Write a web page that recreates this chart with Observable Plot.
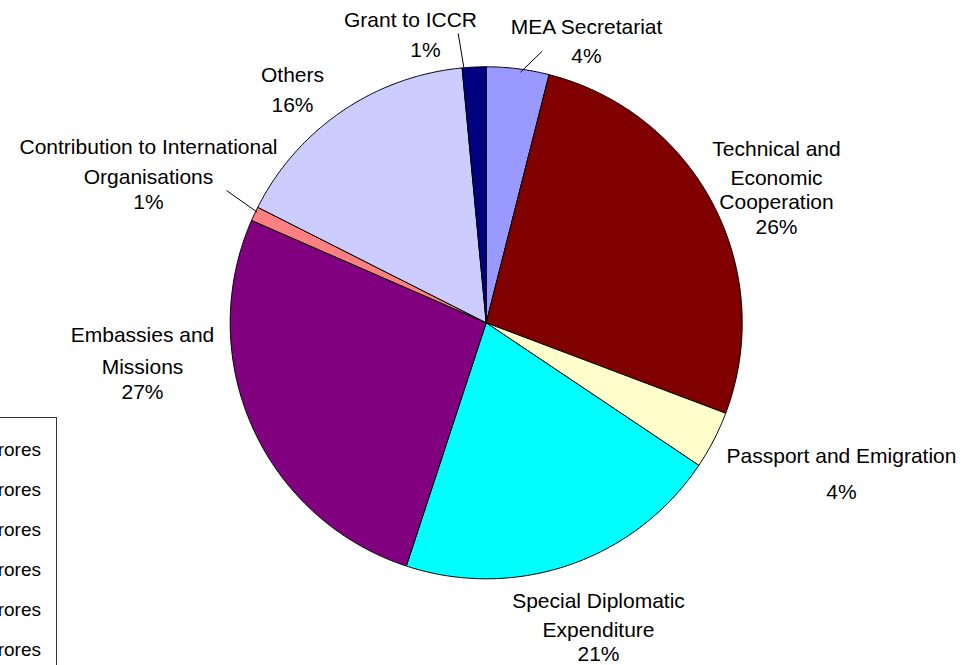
<!DOCTYPE html>
<html>
<head>
<meta charset="utf-8">
<script src="https://cdn.jsdelivr.net/npm/d3@7"></script>
<script src="https://cdn.jsdelivr.net/npm/@observablehq/plot@0.6"></script>
<style>
  html, body { margin: 0; padding: 0; background: #fff; overflow: hidden; }
  #wrap { position: relative; width: 972px; height: 665px; overflow: hidden; font-family: "Liberation Sans", Arial, sans-serif; }
  #legend { position: absolute; left: -242px; top: 417px; width: 299px; height: 320px; border: 1px solid #333; background: #fff; box-sizing: border-box; }
  #legend div { position: absolute; right: 15px; font-size: 19px; line-height: 24px; white-space: nowrap; color: #000; }
</style>
</head>
<body>
<div id="wrap"></div>
<script>
// ---- data ----
const categories = [
  "MEA Secretariat",
  "Technical and Economic Cooperation",
  "Passport and Emigration",
  "Special Diplomatic Expenditure",
  "Embassies and Missions",
  "Contribution to International Organisations",
  "Others",
  "Grant to ICCR"
];
const shares = [3.95, 26.8, 3.65, 20.65, 26.5, 0.9, 16.05, 1.5];
const percentLabels = ["4%", "26%", "4%", "21%", "27%", "1%", "16%", "1%"];
const nameLines = [
  ["MEA Secretariat"],
  ["Technical and", "Economic", "Cooperation"],
  ["Passport and Emigration"],
  ["Special Diplomatic", "Expenditure"],
  ["Embassies and", "Missions"],
  ["Contribution to International", "Organisations"],
  ["Others"],
  ["Grant to ICCR"]
];
const colors = ["#9999FF", "#800000", "#FFFFCC", "#00FFFF", "#800080", "#FF8080", "#CCCCFF", "#000080"];
const legendTexts = ["Crores", "Crores", "Crores", "Crores", "Crores", "Crores", "Crores", "Crores"];

// ---- layout (pixels) ----
const cx = 485.7, cy = 322.3, R = 256;
// label line centres per category: [x, y] for each name line, then the percent line
const labelLayout = [
  [[586, 27], [586, 56]],
  [[776, 149], [776, 178], [776, 202], [776, 227]],
  [[841, 456], [841, 492]],
  [[598, 601], [598, 630], [598, 654]],
  [[142, 335], [142, 367], [142, 392]],
  [[148, 147], [148, 177], [148, 202]],
  [[292, 75], [292, 105]],
  [[410, 20], [425, 50]]
];
const leaderLayout = [
  {cat: 0, from: [520, 71.7], to: [541.7, 50.7]},
  {cat: 5, from: [256.7, 211.7], to: [226, 190]},
  {cat: 7, from: [463.3, 66.7], to: [457.7, 33]}
];

const toX = px => (px - cx) / R;
const toY = py => (cy - py) / R;

// slices from the pie layout
const arcs = d3.pie().sort(null).value(d => d)(shares);
const slicePts = [];
arcs.forEach((a, i) => {
  const cat = categories[i];
  slicePts.push({cat, x: 0, y: 0});
  const n = Math.max(2, Math.ceil((a.endAngle - a.startAngle) / (Math.PI / 360)));
  for (let k = 0; k <= n; k++) {
    const t = a.startAngle + (a.endAngle - a.startAngle) * k / n;
    slicePts.push({cat, x: Math.sin(t), y: Math.cos(t)});
  }
  slicePts.push({cat, x: 0, y: 0});
});

const textRows = [];
categories.forEach((c, i) => {
  const lines = [...nameLines[i], percentLabels[i]];
  lines.forEach((t, j) => {
    const [px, py] = labelLayout[i][j];
    textRows.push({text: t, x: toX(px), y: toY(py)});
  });
});
const leaders = leaderLayout.map(d => ({
  cat: categories[d.cat],
  x1: toX(d.from[0]), y1: toY(d.from[1]), x2: toX(d.to[0]), y2: toY(d.to[1])
}));

const chart = Plot.plot({
  width: 972,
  height: 665,
  margin: 0,
  style: {background: "#fff", overflow: "visible"},
  x: {domain: [-1, 1], range: [cx - R, cx + R], axis: null},
  y: {domain: [-1, 1], range: [cy + R, cy - R], axis: null},
  color: {type: "ordinal", domain: categories, range: colors},
  marks: [
    Plot.line(slicePts, {x: "x", y: "y", z: "cat", fill: "cat", stroke: "#000", strokeWidth: 1, curve: "linear", strokeLinejoin: "round"}),
    Plot.link(leaders, {x1: "x1", y1: "y1", x2: "x2", y2: "y2", stroke: "#000", strokeWidth: 1}),
    Plot.text(textRows, {x: "x", y: "y", text: "text", fontSize: 21, fontFamily: "Liberation Sans, Arial, sans-serif", fill: "#000", textAnchor: "middle", lineAnchor: "middle"})
  ]
});

const wrap = document.getElementById("wrap");
wrap.appendChild(chart);

const legend = document.createElement("div");
legend.id = "legend";
legendTexts.forEach((t, i) => {
  const row = document.createElement("div");
  row.textContent = t;
  row.style.top = (20 + i * 40) + "px";
  legend.appendChild(row);
});
wrap.appendChild(legend);
</script>
</body>
</html>
